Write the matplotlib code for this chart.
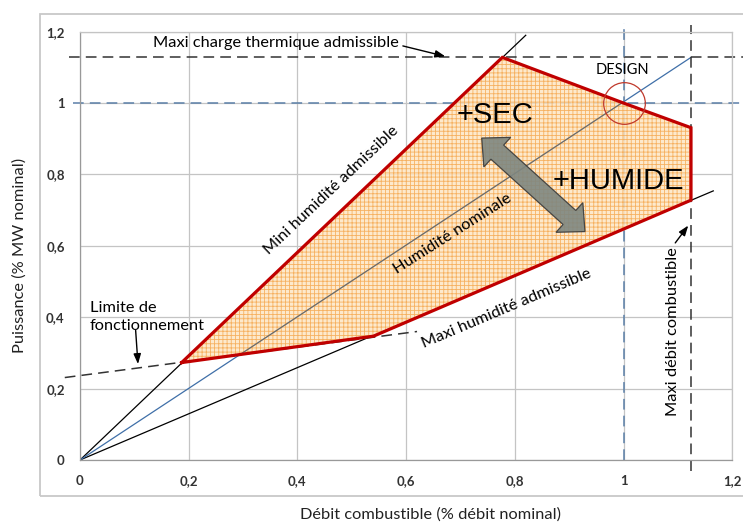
import numpy as np
import matplotlib
matplotlib.use("Agg")
import matplotlib.pyplot as plt
from matplotlib.patches import Polygon, Rectangle

plt.rcParams['font.family'] = ['Lato', 'DejaVu Sans']
plt.rcParams['hatch.linewidth'] = 0.6

# axes
ticks = [0, 0.2, 0.4, 0.6, 0.8, 1.0, 1.2]
tick_labels = ['0', '0,2', '0,4', '0,6', '0,8', '1', '1,2']

# operating zone (red outline)
zone_x = [0.187, 0.777, 1.0, 1.124, 1.124, 0.540, 0.187]
zone_y = [0.273, 1.128, 1.0, 0.931, 0.728, 0.347, 0.273]

# reference lines
mini_hum_x = [0, 0.82]
mini_hum_y = [0, 1.19]
maxi_hum_x = [0, 1.165]
maxi_hum_y = [0, 0.754]
nominal_x = [0, 1.124]
nominal_y = [0, 1.128]
limit_x = [-0.028, 0.62]
limit_y = [0.231, 0.360]
thermal_max = 1.128
fuel_max = 1.124
design_x, design_y = 1.0, 1.0

FS = 11.8

fig = plt.figure(figsize=(7.43, 5.23), dpi=100)
ax = fig.add_axes([80 / 743, 63 / 523, 652.3 / 743, 428.3 / 523])
ax.set_xlim(0, 1.2)
ax.set_ylim(0, 1.2)

# outer frame
fig.patches.append(Rectangle((40 / 743, 27.3 / 523), 1.0, 481.7 / 523,
                             transform=fig.transFigure, fill=False,
                             edgecolor='#c8c8c8', lw=1.3))

ax.set_xticks(ticks)
ax.set_yticks(ticks)
ax.set_xticklabels(tick_labels, fontsize=9.5, fontweight='bold', color='#333333')
ax.set_yticklabels(tick_labels, fontsize=9.5, fontweight='bold', color='#333333')
ax.tick_params(axis='x', length=0, pad=11)
ax.tick_params(axis='y', length=0, pad=11)
ax.grid(True, color='#c4c4c4', lw=0.9, zorder=0)
ax.set_axisbelow(True)
for s in ax.spines.values():
    s.set_color('#c4c4c4')
    s.set_linewidth(0.9)
ax.spines['left'].set_color('#999999')
ax.spines['bottom'].set_color('#999999')

fig.text(430 / 743, 1 - 515 / 523, 'Débit combustible (% débit nominal)',
         fontsize=FS, ha='center', va='center', color='#222222')
fig.text(20 / 743, 1 - 255 / 523, 'Puissance (% MW nominal)', rotation=90,
         fontsize=FS, ha='center', va='center', color='#222222')

# lines from origin
ax.plot(mini_hum_x, mini_hum_y, color='black', lw=0.9, zorder=1)
ax.plot(maxi_hum_x, maxi_hum_y, color='black', lw=0.9, zorder=1)
ax.plot(nominal_x, nominal_y, color='#3f6fa8', lw=0.9, zorder=1)

# dashed limits
ax.plot([-0.02, 1.22], [thermal_max, thermal_max], color='#333333', lw=1.1,
        ls=(0, (7, 4)), clip_on=False, zorder=1)
ax.plot([-0.013, 1.22], [design_y, design_y], color='#5b7fa8', lw=1.1,
        ls=(0, (7, 4)), clip_on=False, zorder=1)
ax.plot([design_x, design_x], [0, 1.225], color='#5b7fa8', lw=1.1,
        ls=(0, (7, 4)), clip_on=False, zorder=1)
ax.plot([fuel_max, fuel_max], [-0.03, 1.218], color='#333333', lw=1.1,
        ls=(0, (7, 4)), clip_on=False, zorder=1)
ax.plot(limit_x, limit_y, color='#333333', lw=1.1, ls=(0, (7, 4)),
        clip_on=False, zorder=1)

# operating zone
zone = Polygon(np.column_stack([zone_x, zone_y]), closed=True,
               facecolor='#fde6c4', edgecolor='#f5a84e', hatch='++++',
               lw=0, alpha=0.85, zorder=2)
ax.add_patch(zone)
inner, = ax.plot(nominal_x, nominal_y, color='#6a6a6a', lw=0.9, zorder=3)
inner.set_clip_path(zone)
ax.plot(zone_x, zone_y, color='#c00000', lw=2.3, zorder=4, solid_joinstyle='miter')

# design point circle
ax.plot([design_x], [design_y], marker='o', ms=30, mfc='none', mec='#c0392b',
        mew=0.9, zorder=5)
ax.text(0.997, 1.092, 'DESIGN', fontsize=10.5, ha='center', va='center', zorder=6)

# double arrow (built in pixel space)
p0 = ax.transData.transform((0.739, 0.902))
p1 = ax.transData.transform((0.929, 0.640))
d = (p1 - p0) / np.linalg.norm(p1 - p0)
n = np.array([-d[1], d[0]])
hl, hw, sw = 21, 20, 9.5
pts = [p0,
       p0 + d * hl + n * hw, p0 + d * hl + n * sw,
       p1 - d * hl + n * sw, p1 - d * hl + n * hw,
       p1,
       p1 - d * hl - n * hw, p1 - d * hl - n * sw,
       p0 + d * hl - n * sw, p0 + d * hl - n * hw]
pts = ax.transData.inverted().transform(np.array(pts))
ax.add_patch(Polygon(pts, closed=True, facecolor='#7e8680', edgecolor='#3a3a3a',
                     lw=0.9, alpha=0.9, zorder=5))

ax.text(0.764, 0.966, '+SEC', fontsize=21, ha='center', va='center',
        family=['Liberation Sans'], zorder=6)
ax.text(0.990, 0.782, '+HUMIDE', fontsize=21, ha='center', va='center',
        family=['Liberation Sans'], zorder=6)

# labels
arrow_kw = dict(arrowstyle='-|>,head_length=0.6,head_width=0.22', color='black', lw=1)
ax.text(0.134, 1.168, 'Maxi charge thermique admissible', fontsize=FS,
        ha='left', va='center', zorder=6)
ax.annotate('', xy=(0.677, 1.129), xytext=(0.589, 1.162),
            arrowprops=arrow_kw, annotation_clip=False, zorder=6)
ax.text(0.463, 0.755, 'Mini humidité admissible', fontsize=FS, rotation=43.5,
        rotation_mode='anchor', ha='center', va='center', zorder=6)
ax.text(0.685, 0.633, 'Humidité nominale', fontsize=FS, rotation=32.5,
        rotation_mode='anchor', ha='center', va='center', zorder=6)
ax.text(0.784, 0.423, 'Maxi humidité admissible', fontsize=FS, rotation=23,
        rotation_mode='anchor', ha='center', va='center', zorder=6)
ax.text(1.091, 0.361, 'Maxi débit combustible', fontsize=FS, rotation=90,
        rotation_mode='anchor', ha='center', va='center', zorder=6)
ax.annotate('', xy=(1.122, 0.663), xytext=(1.092, 0.602),
            arrowprops=arrow_kw, zorder=6)
ax.text(0.018, 0.401, 'Limite de\nfonctionnement', fontsize=FS, ha='left',
        va='center', linespacing=1.3, zorder=6)
ax.annotate('', xy=(0.107, 0.261), xytext=(0.102, 0.371),
            arrowprops=arrow_kw, zorder=6)

fig.savefig('out.png', dpi=100)
